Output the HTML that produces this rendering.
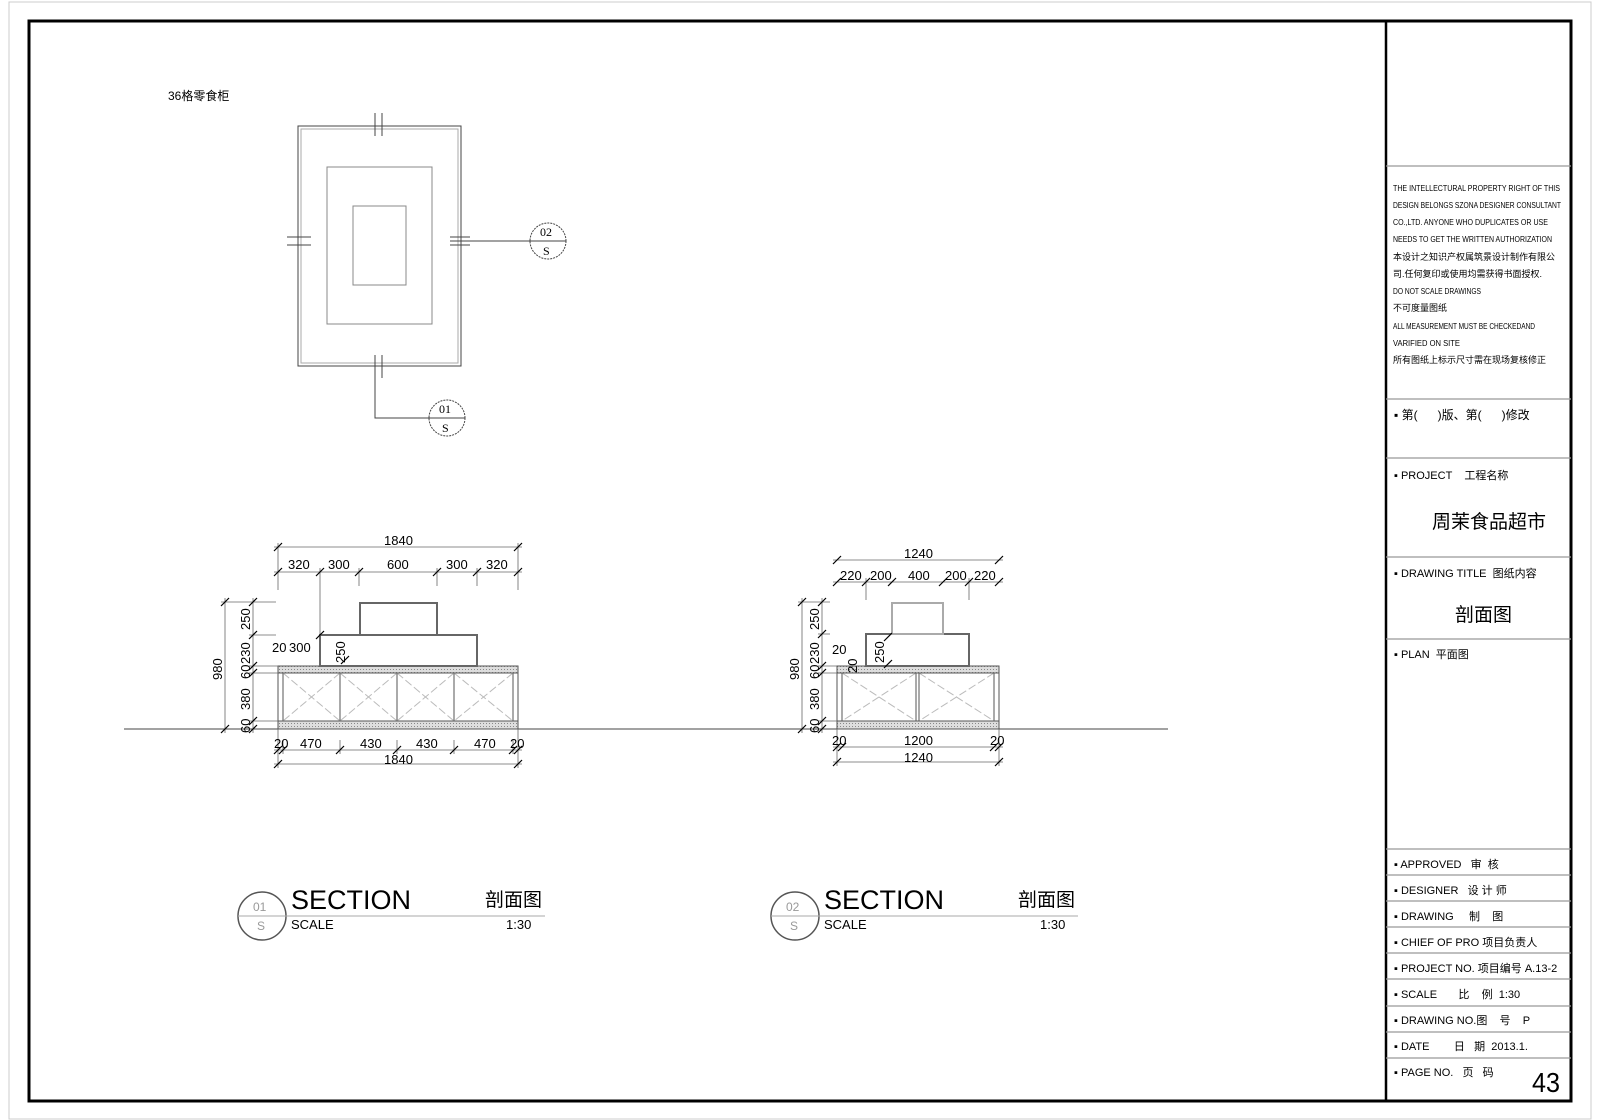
<!DOCTYPE html>
<html><head><meta charset="utf-8"><style>
html,body{margin:0;padding:0;background:#fff;}
svg{display:block;}
text{font-family:"Liberation Sans","Noto Sans CJK SC",sans-serif;fill:#000;}
.n{font-size:13px;}
</style></head><body>
<svg width="1600" height="1120" viewBox="0 0 1600 1120" xmlns="http://www.w3.org/2000/svg">
<defs>
<pattern id="h" width="3" height="3" patternUnits="userSpaceOnUse"><rect width="3" height="3" fill="#ddd"/><rect width="1" height="1" fill="#888"/></pattern>
<g id="tick"><line x1="-4" y1="4" x2="4" y2="-4" stroke="#000" stroke-width="1.2"/></g>
</defs>
<rect x="9" y="2" width="1582" height="1117" fill="none" stroke="#ccc" stroke-width="1"/>
<rect x="29" y="21" width="1542" height="1080" fill="none" stroke="#000" stroke-width="3"/>
<line x1="1386" y1="21" x2="1386" y2="1101" stroke="#000" stroke-width="2.5"/>
<g stroke="#999" stroke-width="1.2">
<line x1="1386" y1="166" x2="1571" y2="166"/><line x1="1386" y1="399" x2="1571" y2="399"/>
<line x1="1386" y1="458" x2="1571" y2="458"/><line x1="1386" y1="557" x2="1571" y2="557"/>
<line x1="1386" y1="639" x2="1571" y2="639"/><line x1="1386" y1="849" x2="1571" y2="849"/>
<line x1="1386" y1="875" x2="1571" y2="875"/><line x1="1386" y1="901" x2="1571" y2="901"/>
<line x1="1386" y1="927" x2="1571" y2="927"/><line x1="1386" y1="953" x2="1571" y2="953"/>
<line x1="1386" y1="979" x2="1571" y2="979"/><line x1="1386" y1="1006" x2="1571" y2="1006"/>
<line x1="1386" y1="1032" x2="1571" y2="1032"/><line x1="1386" y1="1058" x2="1571" y2="1058"/>
</g>
<g>
<text x="1393" y="191" style="font-size:8px" textLength="167" lengthAdjust="spacingAndGlyphs">THE INTELLECTURAL PROPERTY RIGHT OF THIS</text>
<text x="1393" y="208" style="font-size:8px" textLength="168" lengthAdjust="spacingAndGlyphs">DESIGN BELONGS SZONA DESIGNER CONSULTANT</text>
<text x="1393" y="225" style="font-size:8px" textLength="155" lengthAdjust="spacingAndGlyphs">CO.,LTD. ANYONE WHO DUPLICATES OR USE</text>
<text x="1393" y="242" style="font-size:8px" textLength="159" lengthAdjust="spacingAndGlyphs">NEEDS TO GET THE WRITTEN AUTHORIZATION</text>
<text x="1393" y="260" style="font-size:9px">本设计之知识产权属筑景设计制作有限公</text>
<text x="1393" y="277" style="font-size:9px">司.任何复印或使用均需获得书面授权.</text>
<text x="1393" y="294" style="font-size:8px" textLength="88" lengthAdjust="spacingAndGlyphs">DO NOT SCALE DRAWINGS</text>
<text x="1393" y="311" style="font-size:9px">不可度量图纸</text>
<text x="1393" y="329" style="font-size:8px" textLength="142" lengthAdjust="spacingAndGlyphs">ALL MEASUREMENT MUST BE CHECKEDAND</text>
<text x="1393" y="346" style="font-size:8px" textLength="67" lengthAdjust="spacingAndGlyphs">VARIFIED ON SITE</text>
<text x="1393" y="363" style="font-size:9px">所有图纸上标示尺寸需在现场复核修正</text>
</g>
<g>
<text x="1394" y="419" style="font-size:12px">▪ 第(&#160;&#160;&#160;&#160;&#160;&#160;)版、第(&#160;&#160;&#160;&#160;&#160;&#160;)修改</text>
<text x="1394" y="479" style="font-size:11px">▪ PROJECT &#160;&#160;&#160;工程名称</text>
<text x="1432" y="528" style="font-size:19px">周茉食品超市</text>
<text x="1394" y="577" style="font-size:11px">▪ DRAWING TITLE &#160;图纸内容</text>
<text x="1455" y="621" style="font-size:19px">剖面图</text>
<text x="1394" y="658" style="font-size:11px">▪ PLAN &#160;平面图</text>
<text x="1394" y="868" style="font-size:11px">▪ APPROVED &#160;&#160;审 &#160;核</text>
<text x="1394" y="894" style="font-size:11px">▪ DESIGNER &#160;&#160;设 计 师</text>
<text x="1394" y="920" style="font-size:11px">▪ DRAWING &#160;&#160;&#160;&#160;制 &#160;&#160;&#160;图</text>
<text x="1394" y="946" style="font-size:11px">▪ CHIEF OF PRO 项目负责人</text>
<text x="1394" y="972" style="font-size:11px">▪ PROJECT NO. 项目编号 A.13-2</text>
<text x="1394" y="998" style="font-size:11px">▪ SCALE &#160;&#160;&#160;&#160;&#160;&#160;比 &#160;&#160;&#160;例 &#160;1:30</text>
<text x="1394" y="1024" style="font-size:11px">▪ DRAWING NO.图 &#160;&#160;&#160;号 &#160;&#160;&#160;P</text>
<text x="1394" y="1050" style="font-size:11px">▪ DATE &#160;&#160;&#160;&#160;&#160;&#160;&#160;日 &#160;&#160;期 &#160;2013.1.</text>
<text x="1394" y="1076" style="font-size:11px">▪ PAGE NO. &#160;&#160;页 &#160;&#160;码</text>
<text x="1532" y="1092" style="font-size:28px" textLength="28" lengthAdjust="spacingAndGlyphs">43</text>
</g>

<text x="168" y="100" style="font-size:12px">36格零食柜</text>
<g fill="none" stroke="#444" stroke-width="1">
<rect x="298" y="126" width="163" height="240"/>
<rect x="301" y="129" width="157" height="234" stroke="#aaa"/>
<rect x="327" y="167" width="105" height="157" stroke="#888"/>
<rect x="353" y="206" width="53" height="79" stroke="#888"/>
<line x1="375" y1="113" x2="375" y2="136"/><line x1="382" y1="113" x2="382" y2="136"/>
<line x1="287" y1="237" x2="311" y2="237"/><line x1="287" y1="245" x2="311" y2="245"/>
<line x1="450" y1="237" x2="470" y2="237"/><line x1="450" y1="245" x2="470" y2="245"/>
<line x1="450" y1="241" x2="566" y2="241"/>
<line x1="375" y1="355" x2="375" y2="378"/><line x1="382" y1="355" x2="382" y2="378"/>
<polyline points="375,378 375,418 429,418"/>
<circle cx="548" cy="241" r="18" stroke-dasharray="2,1"/><line x1="530" y1="241" x2="566" y2="241"/>
<circle cx="447" cy="418" r="18" stroke-dasharray="2,1"/><line x1="429" y1="418" x2="465" y2="418"/>
</g>
<text x="540" y="236" style="font-size:12px;font-family:'Liberation Serif',serif">02</text>
<text x="543" y="255" style="font-size:12px;font-family:'Liberation Serif',serif">S</text>
<text x="439" y="413" style="font-size:12px;font-family:'Liberation Serif',serif">01</text>
<text x="442" y="432" style="font-size:12px;font-family:'Liberation Serif',serif">S</text>

<line x1="124" y1="729" x2="1168" y2="729" stroke="#444" stroke-width="1"/>

<g stroke="#555" fill="none" stroke-width="1">
<rect x="278" y="673" width="240" height="48" fill="#fff"/>
<line x1="283" y1="673" x2="283" y2="721"/><line x1="513" y1="673" x2="513" y2="721"/>
<line x1="340" y1="673" x2="340" y2="721"/><line x1="397" y1="673" x2="397" y2="721"/><line x1="454" y1="673" x2="454" y2="721"/>
<g stroke="#bbb" stroke-dasharray="8,3">
<line x1="283" y1="673" x2="340" y2="721"/><line x1="340" y1="673" x2="283" y2="721"/>
<line x1="340" y1="673" x2="397" y2="721"/><line x1="397" y1="673" x2="340" y2="721"/>
<line x1="397" y1="673" x2="454" y2="721"/><line x1="454" y1="673" x2="397" y2="721"/>
<line x1="454" y1="673" x2="513" y2="721"/><line x1="513" y1="673" x2="454" y2="721"/>
</g>
<rect x="278" y="721" width="240" height="8" fill="url(#h)"/>
<rect x="278" y="666" width="240" height="7" fill="url(#h)"/>
<rect x="320" y="635" width="157" height="31" fill="#fff" stroke="#666" stroke-width="2"/>
<rect x="360" y="603" width="77" height="32" fill="#fff" stroke="#666" stroke-width="2"/>
</g>
<g stroke="#666" stroke-width="0.8">
<line x1="274" y1="547" x2="522" y2="547"/><line x1="274" y1="572" x2="522" y2="572"/>
<line x1="278" y1="543" x2="278" y2="590"/><line x1="518" y1="543" x2="518" y2="590"/>
<line x1="320" y1="568" x2="320" y2="635"/><line x1="359" y1="568" x2="359" y2="586"/><line x1="437" y1="568" x2="437" y2="586"/><line x1="477" y1="568" x2="477" y2="586"/>
<line x1="225" y1="598" x2="225" y2="733"/><line x1="253" y1="598" x2="253" y2="733"/>
<line x1="221" y1="602" x2="276" y2="602"/><line x1="249" y1="635" x2="276" y2="635"/><line x1="249" y1="666" x2="278" y2="666"/><line x1="249" y1="673" x2="278" y2="673"/><line x1="249" y1="721" x2="278" y2="721"/>
<line x1="274" y1="750" x2="522" y2="750"/><line x1="274" y1="764" x2="522" y2="764"/>
<line x1="278" y1="729" x2="278" y2="768"/><line x1="518" y1="729" x2="518" y2="768"/>
<line x1="283" y1="740" x2="283" y2="754"/><line x1="340" y1="740" x2="340" y2="754"/><line x1="397" y1="740" x2="397" y2="754"/><line x1="454" y1="740" x2="454" y2="754"/><line x1="513" y1="740" x2="513" y2="754"/>
</g>
<g>
<use href="#tick" x="278" y="547"/><use href="#tick" x="518" y="547"/>
<use href="#tick" x="278" y="572"/><use href="#tick" x="320" y="572"/><use href="#tick" x="359" y="572"/><use href="#tick" x="437" y="572"/><use href="#tick" x="477" y="572"/><use href="#tick" x="518" y="572"/>
<use href="#tick" x="225" y="602"/><use href="#tick" x="225" y="729"/>
<use href="#tick" x="253" y="602"/><use href="#tick" x="253" y="635"/><use href="#tick" x="253" y="666"/><use href="#tick" x="253" y="673"/><use href="#tick" x="253" y="721"/><use href="#tick" x="253" y="729"/>
<use href="#tick" x="278" y="750"/><use href="#tick" x="283" y="750"/><use href="#tick" x="340" y="750"/><use href="#tick" x="397" y="750"/><use href="#tick" x="454" y="750"/><use href="#tick" x="513" y="750"/><use href="#tick" x="518" y="750"/>
<use href="#tick" x="278" y="764"/><use href="#tick" x="518" y="764"/>
<use href="#tick" x="320" y="635"/><use href="#tick" x="345" y="660"/>
</g>
<g>
<text x="384" y="545" class="n">1840</text>
<text x="288" y="569" class="n">320</text><text x="328" y="569" class="n">300</text><text x="387" y="569" class="n">600</text><text x="446" y="569" class="n">300</text><text x="486" y="569" class="n">320</text>
<text x="272" y="652" class="n">20</text><text x="289" y="652" class="n">300</text>
<text x="274" y="748" class="n">20</text><text x="300" y="748" class="n">470</text><text x="360" y="748" class="n">430</text><text x="416" y="748" class="n">430</text><text x="474" y="748" class="n">470</text><text x="510" y="748" class="n">20</text>
<text x="384" y="764" class="n">1840</text>
<text transform="translate(222,680) rotate(-90)" class="n">980</text>
<text transform="translate(250,630) rotate(-90)" class="n">250</text>
<text transform="translate(250,664) rotate(-90)" class="n">230</text>
<text transform="translate(250,679) rotate(-90)" class="n">60</text>
<text transform="translate(250,710) rotate(-90)" class="n">380</text>
<text transform="translate(250,733) rotate(-90)" class="n">60</text>
<text transform="translate(345,663) rotate(-90)" class="n">250</text>
</g>

<g stroke="#555" fill="none" stroke-width="1">
<rect x="837" y="673" width="162" height="48" fill="#fff"/>
<line x1="842" y1="673" x2="842" y2="721"/><line x1="994" y1="673" x2="994" y2="721"/>
<line x1="916" y1="673" x2="916" y2="721"/><line x1="919" y1="673" x2="919" y2="721"/>
<g stroke="#bbb" stroke-dasharray="8,3">
<line x1="842" y1="673" x2="916" y2="721"/><line x1="916" y1="673" x2="842" y2="721"/>
<line x1="919" y1="673" x2="994" y2="721"/><line x1="994" y1="673" x2="919" y2="721"/>
</g>
<rect x="837" y="721" width="162" height="8" fill="url(#h)"/>
<rect x="837" y="666" width="162" height="7" fill="url(#h)"/>
<rect x="866" y="634" width="103" height="32" fill="#fff" stroke="#666" stroke-width="2"/>
<rect x="892" y="603" width="51" height="31" fill="#fff" stroke="#aaa" stroke-width="2"/>
</g>
<g stroke="#666" stroke-width="0.8">
<line x1="833" y1="560" x2="1003" y2="560"/><line x1="833" y1="582" x2="1003" y2="582"/>
<line x1="866" y1="578" x2="866" y2="600"/><line x1="969" y1="578" x2="969" y2="600"/>
<line x1="802" y1="598" x2="802" y2="733"/><line x1="822" y1="598" x2="822" y2="733"/>
<line x1="798" y1="602" x2="830" y2="602"/><line x1="818" y1="634" x2="830" y2="634"/><line x1="818" y1="666" x2="837" y2="666"/><line x1="818" y1="673" x2="837" y2="673"/><line x1="818" y1="721" x2="837" y2="721"/>
<line x1="833" y1="747" x2="1003" y2="747"/><line x1="833" y1="762" x2="1003" y2="762"/>
<line x1="837" y1="729" x2="837" y2="766"/><line x1="999" y1="729" x2="999" y2="766"/>
</g>
<g>
<use href="#tick" x="837" y="560"/><use href="#tick" x="999" y="560"/>
<use href="#tick" x="837" y="582"/><use href="#tick" x="866" y="582"/><use href="#tick" x="892" y="582"/><use href="#tick" x="943" y="582"/><use href="#tick" x="969" y="582"/><use href="#tick" x="999" y="582"/>
<use href="#tick" x="802" y="602"/><use href="#tick" x="802" y="729"/>
<use href="#tick" x="822" y="602"/><use href="#tick" x="822" y="634"/><use href="#tick" x="822" y="666"/><use href="#tick" x="822" y="673"/><use href="#tick" x="822" y="721"/><use href="#tick" x="822" y="729"/>
<use href="#tick" x="837" y="747"/><use href="#tick" x="842" y="747"/><use href="#tick" x="994" y="747"/><use href="#tick" x="999" y="747"/>
<use href="#tick" x="837" y="762"/><use href="#tick" x="999" y="762"/>
<use href="#tick" x="888" y="637"/><use href="#tick" x="888" y="664"/>
</g>
<g>
<text x="904" y="558" class="n">1240</text>
<text x="840" y="580" class="n">220</text><text x="870" y="580" class="n">200</text><text x="908" y="580" class="n">400</text><text x="945" y="580" class="n">200</text><text x="974" y="580" class="n">220</text>
<text x="832" y="654" class="n">20</text>
<text transform="translate(857,673) rotate(-90)" class="n">20</text>
<text x="832" y="745" class="n">20</text><text x="904" y="745" class="n">1200</text><text x="990" y="745" class="n">20</text>
<text x="904" y="762" class="n">1240</text>
<text transform="translate(799,680) rotate(-90)" class="n">980</text>
<text transform="translate(819,630) rotate(-90)" class="n">250</text>
<text transform="translate(819,664) rotate(-90)" class="n">230</text>
<text transform="translate(819,679) rotate(-90)" class="n">60</text>
<text transform="translate(819,710) rotate(-90)" class="n">380</text>
<text transform="translate(819,733) rotate(-90)" class="n">60</text>
<text transform="translate(884,663) rotate(-90)" class="n">250</text>
</g>

<g>
<circle cx="262" cy="916" r="24" fill="none" stroke="#555" stroke-width="1.5"/>
<line x1="238" y1="916" x2="545" y2="916" stroke="#aaa" stroke-width="1"/>
<text x="253" y="911" style="font-size:12px;fill:#999">01</text><text x="257" y="930" style="font-size:12px;fill:#999">S</text>
<text x="291" y="909" style="font-size:27px">SECTION</text>
<text x="291" y="929" style="font-size:13px">SCALE</text>
<text x="485" y="906" style="font-size:19px">剖面图</text>
<text x="506" y="929" style="font-size:13px">1:30</text>

<circle cx="795" cy="916" r="24" fill="none" stroke="#555" stroke-width="1.5"/>
<line x1="771" y1="916" x2="1078" y2="916" stroke="#aaa" stroke-width="1"/>
<text x="786" y="911" style="font-size:12px;fill:#999">02</text><text x="790" y="930" style="font-size:12px;fill:#999">S</text>
<text x="824" y="909" style="font-size:27px">SECTION</text>
<text x="824" y="929" style="font-size:13px">SCALE</text>
<text x="1018" y="906" style="font-size:19px">剖面图</text>
<text x="1040" y="929" style="font-size:13px">1:30</text>
</g>
</svg>
</body></html>
